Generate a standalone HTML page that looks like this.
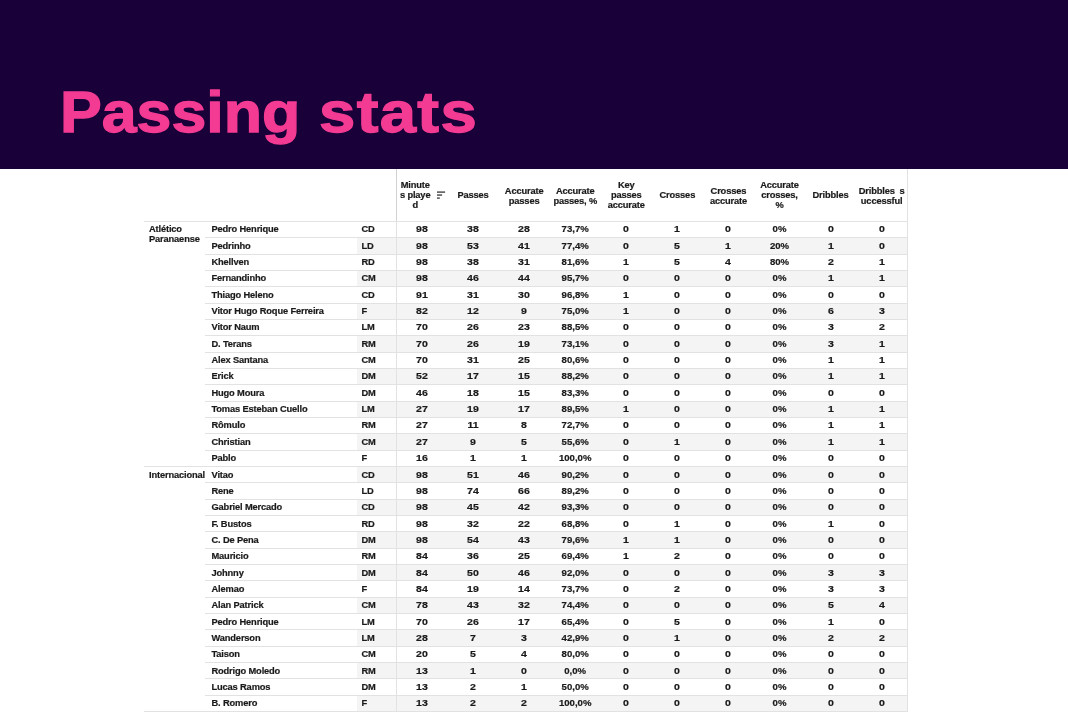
<!DOCTYPE html>
<html lang="en"><head><meta charset="utf-8"><title>Passing stats</title>
<style>
html,body{margin:0;padding:0;}
body{width:1068px;height:712px;overflow:hidden;background:#fff;position:relative;font-family:"Liberation Sans",sans-serif;}
#hdr{position:absolute;left:0;top:0;width:1068px;height:169px;background:#190038;}
#title{position:absolute;left:0;top:83px;margin:0;font-size:58px;line-height:1;font-weight:bold;color:#f43b93;white-space:nowrap;-webkit-text-stroke:1.3px #f43b93;}
#title span{position:absolute;top:0;display:block;transform-origin:0 0;}
#w1{left:60.2px;transform:scale(1.08,1);letter-spacing:0px;}
#w2{left:319px;transform:scale(1.125,1);letter-spacing:1.2px;}
#tbl{position:absolute;left:0;top:0;width:1068px;height:712px;font-size:9.3px;font-weight:bold;color:#1a1a1a;letter-spacing:-0.15px;-webkit-text-stroke:0.2px #1a1a1a;}
.r{position:absolute;left:0;width:1068px;height:16.34px;line-height:16.34px;}
.r.s::before{content:"";position:absolute;left:357px;top:0;width:550px;height:100%;background:#f4f4f4;}
.r::after{content:"";position:absolute;left:205px;top:-0.5px;width:702px;height:1px;background:#e2e2e2;}
.r.g::after{left:144px;width:763px;}
.r span{position:absolute;top:0px;white-space:nowrap;}
.t{left:149px;line-height:9.8px;white-space:normal !important;width:60px;top:4px !important;}
.n{left:211.5px;}
.p{left:361.5px;}
.d{width:60px;text-align:center;font-size:9.6px;letter-spacing:0;transform:scaleX(1.1);}
.d.pc{transform:scaleX(1.0);}
.h{position:absolute;width:70px;text-align:center;line-height:10px;transform:translateY(-50%);top:194.9px;}
.vl{position:absolute;width:1px;background:#e2e2e2;}
</style></head><body>
<div id="hdr"><h1 id="title"><span id="w1">Passing</span> <span id="w2">stats</span></h1></div>
<div id="tbl">

<div class="h" style="left:380.20px">Minute<br>s playe<br>d</div>
<div class="h" style="left:438.07px">Passes</div>
<div class="h" style="left:489.14px;top:195.50px">Accurate<br>passes</div>
<div class="h" style="left:540.21px;top:195.50px">Accurate<br>passes, %</div>
<div class="h" style="left:591.28px">Key<br>passes<br>accurate</div>
<div class="h" style="left:642.35px">Crosses</div>
<div class="h" style="left:693.42px;top:195.50px">Crosses<br>accurate</div>
<div class="h" style="left:744.49px">Accurate<br>crosses,<br>%</div>
<div class="h" style="left:795.56px">Dribbles</div>
<div class="h" style="left:846.63px;top:195.50px">Dribbles&nbsp; s<br>uccessful</div>
<svg style="position:absolute;left:436.9px;top:190px" width="10" height="11" viewBox="0 0 10 11"><rect x="0" y="1.4" width="8.1" height="1.4" fill="#444"/><rect x="0" y="4.35" width="5.1" height="1.4" fill="#444"/><rect x="0" y="7.4" width="2.8" height="1.4" fill="#444"/></svg>
<div class="r g" style="top:221.40px">
<span class="t">Atlético Paranaense</span><span class="n">Pedro Henrique</span><span class="p">CD</span><span class="d" style="left:392.00px">98</span><span class="d" style="left:443.07px">38</span><span class="d" style="left:494.14px">28</span><span class="d pc" style="left:545.21px">73,7%</span><span class="d" style="left:596.28px">0</span><span class="d" style="left:647.35px">1</span><span class="d" style="left:698.42px">0</span><span class="d pc" style="left:749.49px">0%</span><span class="d" style="left:800.56px">0</span><span class="d" style="left:851.63px">0</span></div>
<div class="r s" style="top:237.74px">
<span class="n">Pedrinho</span><span class="p">LD</span><span class="d" style="left:392.00px">98</span><span class="d" style="left:443.07px">53</span><span class="d" style="left:494.14px">41</span><span class="d pc" style="left:545.21px">77,4%</span><span class="d" style="left:596.28px">0</span><span class="d" style="left:647.35px">5</span><span class="d" style="left:698.42px">1</span><span class="d pc" style="left:749.49px">20%</span><span class="d" style="left:800.56px">1</span><span class="d" style="left:851.63px">0</span></div>
<div class="r" style="top:254.08px">
<span class="n">Khellven</span><span class="p">RD</span><span class="d" style="left:392.00px">98</span><span class="d" style="left:443.07px">38</span><span class="d" style="left:494.14px">31</span><span class="d pc" style="left:545.21px">81,6%</span><span class="d" style="left:596.28px">1</span><span class="d" style="left:647.35px">5</span><span class="d" style="left:698.42px">4</span><span class="d pc" style="left:749.49px">80%</span><span class="d" style="left:800.56px">2</span><span class="d" style="left:851.63px">1</span></div>
<div class="r s" style="top:270.42px">
<span class="n">Fernandinho</span><span class="p">CM</span><span class="d" style="left:392.00px">98</span><span class="d" style="left:443.07px">46</span><span class="d" style="left:494.14px">44</span><span class="d pc" style="left:545.21px">95,7%</span><span class="d" style="left:596.28px">0</span><span class="d" style="left:647.35px">0</span><span class="d" style="left:698.42px">0</span><span class="d pc" style="left:749.49px">0%</span><span class="d" style="left:800.56px">1</span><span class="d" style="left:851.63px">1</span></div>
<div class="r" style="top:286.76px">
<span class="n">Thiago Heleno</span><span class="p">CD</span><span class="d" style="left:392.00px">91</span><span class="d" style="left:443.07px">31</span><span class="d" style="left:494.14px">30</span><span class="d pc" style="left:545.21px">96,8%</span><span class="d" style="left:596.28px">1</span><span class="d" style="left:647.35px">0</span><span class="d" style="left:698.42px">0</span><span class="d pc" style="left:749.49px">0%</span><span class="d" style="left:800.56px">0</span><span class="d" style="left:851.63px">0</span></div>
<div class="r s" style="top:303.10px">
<span class="n">Vitor Hugo Roque Ferreira</span><span class="p">F</span><span class="d" style="left:392.00px">82</span><span class="d" style="left:443.07px">12</span><span class="d" style="left:494.14px">9</span><span class="d pc" style="left:545.21px">75,0%</span><span class="d" style="left:596.28px">1</span><span class="d" style="left:647.35px">0</span><span class="d" style="left:698.42px">0</span><span class="d pc" style="left:749.49px">0%</span><span class="d" style="left:800.56px">6</span><span class="d" style="left:851.63px">3</span></div>
<div class="r" style="top:319.44px">
<span class="n">Vitor Naum</span><span class="p">LM</span><span class="d" style="left:392.00px">70</span><span class="d" style="left:443.07px">26</span><span class="d" style="left:494.14px">23</span><span class="d pc" style="left:545.21px">88,5%</span><span class="d" style="left:596.28px">0</span><span class="d" style="left:647.35px">0</span><span class="d" style="left:698.42px">0</span><span class="d pc" style="left:749.49px">0%</span><span class="d" style="left:800.56px">3</span><span class="d" style="left:851.63px">2</span></div>
<div class="r s" style="top:335.78px">
<span class="n">D. Terans</span><span class="p">RM</span><span class="d" style="left:392.00px">70</span><span class="d" style="left:443.07px">26</span><span class="d" style="left:494.14px">19</span><span class="d pc" style="left:545.21px">73,1%</span><span class="d" style="left:596.28px">0</span><span class="d" style="left:647.35px">0</span><span class="d" style="left:698.42px">0</span><span class="d pc" style="left:749.49px">0%</span><span class="d" style="left:800.56px">3</span><span class="d" style="left:851.63px">1</span></div>
<div class="r" style="top:352.12px">
<span class="n">Alex Santana</span><span class="p">CM</span><span class="d" style="left:392.00px">70</span><span class="d" style="left:443.07px">31</span><span class="d" style="left:494.14px">25</span><span class="d pc" style="left:545.21px">80,6%</span><span class="d" style="left:596.28px">0</span><span class="d" style="left:647.35px">0</span><span class="d" style="left:698.42px">0</span><span class="d pc" style="left:749.49px">0%</span><span class="d" style="left:800.56px">1</span><span class="d" style="left:851.63px">1</span></div>
<div class="r s" style="top:368.46px">
<span class="n">Erick</span><span class="p">DM</span><span class="d" style="left:392.00px">52</span><span class="d" style="left:443.07px">17</span><span class="d" style="left:494.14px">15</span><span class="d pc" style="left:545.21px">88,2%</span><span class="d" style="left:596.28px">0</span><span class="d" style="left:647.35px">0</span><span class="d" style="left:698.42px">0</span><span class="d pc" style="left:749.49px">0%</span><span class="d" style="left:800.56px">1</span><span class="d" style="left:851.63px">1</span></div>
<div class="r" style="top:384.80px">
<span class="n">Hugo Moura</span><span class="p">DM</span><span class="d" style="left:392.00px">46</span><span class="d" style="left:443.07px">18</span><span class="d" style="left:494.14px">15</span><span class="d pc" style="left:545.21px">83,3%</span><span class="d" style="left:596.28px">0</span><span class="d" style="left:647.35px">0</span><span class="d" style="left:698.42px">0</span><span class="d pc" style="left:749.49px">0%</span><span class="d" style="left:800.56px">0</span><span class="d" style="left:851.63px">0</span></div>
<div class="r s" style="top:401.14px">
<span class="n">Tomas Esteban Cuello</span><span class="p">LM</span><span class="d" style="left:392.00px">27</span><span class="d" style="left:443.07px">19</span><span class="d" style="left:494.14px">17</span><span class="d pc" style="left:545.21px">89,5%</span><span class="d" style="left:596.28px">1</span><span class="d" style="left:647.35px">0</span><span class="d" style="left:698.42px">0</span><span class="d pc" style="left:749.49px">0%</span><span class="d" style="left:800.56px">1</span><span class="d" style="left:851.63px">1</span></div>
<div class="r" style="top:417.48px">
<span class="n">Rômulo</span><span class="p">RM</span><span class="d" style="left:392.00px">27</span><span class="d" style="left:443.07px">11</span><span class="d" style="left:494.14px">8</span><span class="d pc" style="left:545.21px">72,7%</span><span class="d" style="left:596.28px">0</span><span class="d" style="left:647.35px">0</span><span class="d" style="left:698.42px">0</span><span class="d pc" style="left:749.49px">0%</span><span class="d" style="left:800.56px">1</span><span class="d" style="left:851.63px">1</span></div>
<div class="r s" style="top:433.82px">
<span class="n">Christian</span><span class="p">CM</span><span class="d" style="left:392.00px">27</span><span class="d" style="left:443.07px">9</span><span class="d" style="left:494.14px">5</span><span class="d pc" style="left:545.21px">55,6%</span><span class="d" style="left:596.28px">0</span><span class="d" style="left:647.35px">1</span><span class="d" style="left:698.42px">0</span><span class="d pc" style="left:749.49px">0%</span><span class="d" style="left:800.56px">1</span><span class="d" style="left:851.63px">1</span></div>
<div class="r" style="top:450.16px">
<span class="n">Pablo</span><span class="p">F</span><span class="d" style="left:392.00px">16</span><span class="d" style="left:443.07px">1</span><span class="d" style="left:494.14px">1</span><span class="d pc" style="left:545.21px">100,0%</span><span class="d" style="left:596.28px">0</span><span class="d" style="left:647.35px">0</span><span class="d" style="left:698.42px">0</span><span class="d pc" style="left:749.49px">0%</span><span class="d" style="left:800.56px">0</span><span class="d" style="left:851.63px">0</span></div>
<div class="r s g" style="top:466.50px">
<span class="t">Internacional</span><span class="n">Vitao</span><span class="p">CD</span><span class="d" style="left:392.00px">98</span><span class="d" style="left:443.07px">51</span><span class="d" style="left:494.14px">46</span><span class="d pc" style="left:545.21px">90,2%</span><span class="d" style="left:596.28px">0</span><span class="d" style="left:647.35px">0</span><span class="d" style="left:698.42px">0</span><span class="d pc" style="left:749.49px">0%</span><span class="d" style="left:800.56px">0</span><span class="d" style="left:851.63px">0</span></div>
<div class="r" style="top:482.84px">
<span class="n">Rene</span><span class="p">LD</span><span class="d" style="left:392.00px">98</span><span class="d" style="left:443.07px">74</span><span class="d" style="left:494.14px">66</span><span class="d pc" style="left:545.21px">89,2%</span><span class="d" style="left:596.28px">0</span><span class="d" style="left:647.35px">0</span><span class="d" style="left:698.42px">0</span><span class="d pc" style="left:749.49px">0%</span><span class="d" style="left:800.56px">0</span><span class="d" style="left:851.63px">0</span></div>
<div class="r s" style="top:499.18px">
<span class="n">Gabriel Mercado</span><span class="p">CD</span><span class="d" style="left:392.00px">98</span><span class="d" style="left:443.07px">45</span><span class="d" style="left:494.14px">42</span><span class="d pc" style="left:545.21px">93,3%</span><span class="d" style="left:596.28px">0</span><span class="d" style="left:647.35px">0</span><span class="d" style="left:698.42px">0</span><span class="d pc" style="left:749.49px">0%</span><span class="d" style="left:800.56px">0</span><span class="d" style="left:851.63px">0</span></div>
<div class="r" style="top:515.52px">
<span class="n">F. Bustos</span><span class="p">RD</span><span class="d" style="left:392.00px">98</span><span class="d" style="left:443.07px">32</span><span class="d" style="left:494.14px">22</span><span class="d pc" style="left:545.21px">68,8%</span><span class="d" style="left:596.28px">0</span><span class="d" style="left:647.35px">1</span><span class="d" style="left:698.42px">0</span><span class="d pc" style="left:749.49px">0%</span><span class="d" style="left:800.56px">1</span><span class="d" style="left:851.63px">0</span></div>
<div class="r s" style="top:531.86px">
<span class="n">C. De Pena</span><span class="p">DM</span><span class="d" style="left:392.00px">98</span><span class="d" style="left:443.07px">54</span><span class="d" style="left:494.14px">43</span><span class="d pc" style="left:545.21px">79,6%</span><span class="d" style="left:596.28px">1</span><span class="d" style="left:647.35px">1</span><span class="d" style="left:698.42px">0</span><span class="d pc" style="left:749.49px">0%</span><span class="d" style="left:800.56px">0</span><span class="d" style="left:851.63px">0</span></div>
<div class="r" style="top:548.20px">
<span class="n">Mauricio</span><span class="p">RM</span><span class="d" style="left:392.00px">84</span><span class="d" style="left:443.07px">36</span><span class="d" style="left:494.14px">25</span><span class="d pc" style="left:545.21px">69,4%</span><span class="d" style="left:596.28px">1</span><span class="d" style="left:647.35px">2</span><span class="d" style="left:698.42px">0</span><span class="d pc" style="left:749.49px">0%</span><span class="d" style="left:800.56px">0</span><span class="d" style="left:851.63px">0</span></div>
<div class="r s" style="top:564.54px">
<span class="n">Johnny</span><span class="p">DM</span><span class="d" style="left:392.00px">84</span><span class="d" style="left:443.07px">50</span><span class="d" style="left:494.14px">46</span><span class="d pc" style="left:545.21px">92,0%</span><span class="d" style="left:596.28px">0</span><span class="d" style="left:647.35px">0</span><span class="d" style="left:698.42px">0</span><span class="d pc" style="left:749.49px">0%</span><span class="d" style="left:800.56px">3</span><span class="d" style="left:851.63px">3</span></div>
<div class="r" style="top:580.88px">
<span class="n">Alemao</span><span class="p">F</span><span class="d" style="left:392.00px">84</span><span class="d" style="left:443.07px">19</span><span class="d" style="left:494.14px">14</span><span class="d pc" style="left:545.21px">73,7%</span><span class="d" style="left:596.28px">0</span><span class="d" style="left:647.35px">2</span><span class="d" style="left:698.42px">0</span><span class="d pc" style="left:749.49px">0%</span><span class="d" style="left:800.56px">3</span><span class="d" style="left:851.63px">3</span></div>
<div class="r s" style="top:597.22px">
<span class="n">Alan Patrick</span><span class="p">CM</span><span class="d" style="left:392.00px">78</span><span class="d" style="left:443.07px">43</span><span class="d" style="left:494.14px">32</span><span class="d pc" style="left:545.21px">74,4%</span><span class="d" style="left:596.28px">0</span><span class="d" style="left:647.35px">0</span><span class="d" style="left:698.42px">0</span><span class="d pc" style="left:749.49px">0%</span><span class="d" style="left:800.56px">5</span><span class="d" style="left:851.63px">4</span></div>
<div class="r" style="top:613.56px">
<span class="n">Pedro Henrique</span><span class="p">LM</span><span class="d" style="left:392.00px">70</span><span class="d" style="left:443.07px">26</span><span class="d" style="left:494.14px">17</span><span class="d pc" style="left:545.21px">65,4%</span><span class="d" style="left:596.28px">0</span><span class="d" style="left:647.35px">5</span><span class="d" style="left:698.42px">0</span><span class="d pc" style="left:749.49px">0%</span><span class="d" style="left:800.56px">1</span><span class="d" style="left:851.63px">0</span></div>
<div class="r s" style="top:629.90px">
<span class="n">Wanderson</span><span class="p">LM</span><span class="d" style="left:392.00px">28</span><span class="d" style="left:443.07px">7</span><span class="d" style="left:494.14px">3</span><span class="d pc" style="left:545.21px">42,9%</span><span class="d" style="left:596.28px">0</span><span class="d" style="left:647.35px">1</span><span class="d" style="left:698.42px">0</span><span class="d pc" style="left:749.49px">0%</span><span class="d" style="left:800.56px">2</span><span class="d" style="left:851.63px">2</span></div>
<div class="r" style="top:646.24px">
<span class="n">Taison</span><span class="p">CM</span><span class="d" style="left:392.00px">20</span><span class="d" style="left:443.07px">5</span><span class="d" style="left:494.14px">4</span><span class="d pc" style="left:545.21px">80,0%</span><span class="d" style="left:596.28px">0</span><span class="d" style="left:647.35px">0</span><span class="d" style="left:698.42px">0</span><span class="d pc" style="left:749.49px">0%</span><span class="d" style="left:800.56px">0</span><span class="d" style="left:851.63px">0</span></div>
<div class="r s" style="top:662.58px">
<span class="n">Rodrigo Moledo</span><span class="p">RM</span><span class="d" style="left:392.00px">13</span><span class="d" style="left:443.07px">1</span><span class="d" style="left:494.14px">0</span><span class="d pc" style="left:545.21px">0,0%</span><span class="d" style="left:596.28px">0</span><span class="d" style="left:647.35px">0</span><span class="d" style="left:698.42px">0</span><span class="d pc" style="left:749.49px">0%</span><span class="d" style="left:800.56px">0</span><span class="d" style="left:851.63px">0</span></div>
<div class="r" style="top:678.92px">
<span class="n">Lucas Ramos</span><span class="p">DM</span><span class="d" style="left:392.00px">13</span><span class="d" style="left:443.07px">2</span><span class="d" style="left:494.14px">1</span><span class="d pc" style="left:545.21px">50,0%</span><span class="d" style="left:596.28px">0</span><span class="d" style="left:647.35px">0</span><span class="d" style="left:698.42px">0</span><span class="d pc" style="left:749.49px">0%</span><span class="d" style="left:800.56px">0</span><span class="d" style="left:851.63px">0</span></div>
<div class="r s" style="top:695.26px">
<span class="n">B. Romero</span><span class="p">F</span><span class="d" style="left:392.00px">13</span><span class="d" style="left:443.07px">2</span><span class="d" style="left:494.14px">2</span><span class="d pc" style="left:545.21px">100,0%</span><span class="d" style="left:596.28px">0</span><span class="d" style="left:647.35px">0</span><span class="d" style="left:698.42px">0</span><span class="d pc" style="left:749.49px">0%</span><span class="d" style="left:800.56px">0</span><span class="d" style="left:851.63px">0</span></div>
<div style="position:absolute;left:144px;top:711.10px;width:763px;height:1px;background:#e2e2e2"></div>
<div class="vl" style="left:396px;top:169px;height:543px"></div>
<div class="vl" style="left:396px;top:169px;height:52.400000000000006px;background:#d2d2d2"></div>
<div class="vl" style="left:907px;top:169px;height:543px"></div>
</div></body></html>
